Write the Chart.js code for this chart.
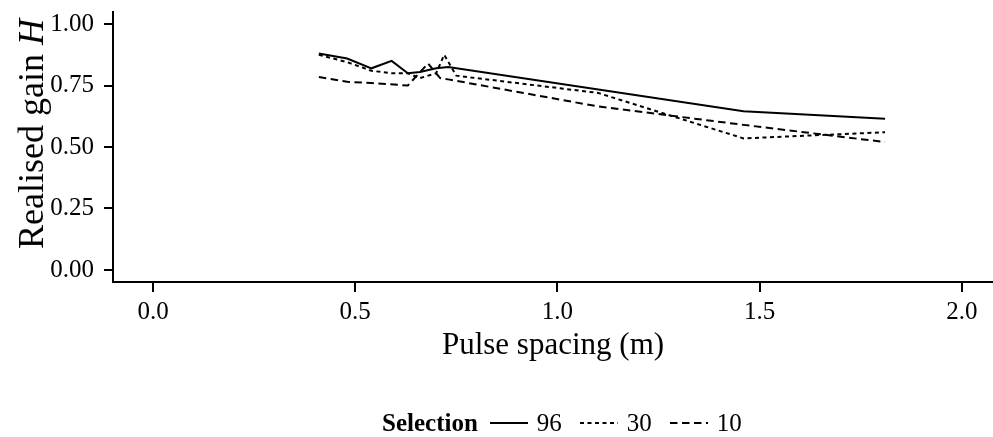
<!DOCTYPE html>
<html>
<head>
<meta charset="utf-8">
<script src="https://cdn.jsdelivr.net/npm/chart.js@4"></script>
<style>
  body { margin: 0; background: #fff; }
  #wrap { position: relative; width: 993px; height: 437px; font-family: 'Liberation Serif', serif; color: #000; }
  #ytitle { position: absolute; left: 31px; top: 134px; transform: translate(-50%, -50%) rotate(-90deg); white-space: nowrap; font-size: 36px; }
  #legend { position: absolute; left: 382px; top: 408px; height: 30px; white-space: nowrap; font-size: 25px; display: flex; align-items: center; }
  #legend b { margin-right: 12px; }
  #legend svg { margin-right: 9px; }
  #legend span { margin-right: 18px; }
</style>
</head>
<body>
<div id="wrap">
  <canvas id="chart" width="993" height="437"></canvas>
  <div id="ytitle">Realised gain <i>H</i></div>
  <div id="legend"></div>
</div>
<script>
// Pulse spacing (m) and realised gain for each selection level
const spacing96 = [0.41, 0.48, 0.54, 0.59, 0.63, 0.66, 0.70, 0.73, 1.46, 1.81];
const gain96 = [0.88, 0.86, 0.82, 0.85, 0.80, 0.805, 0.82, 0.825, 0.645, 0.615];

const spacing30 = [0.41, 0.48, 0.54, 0.59, 0.63, 0.66, 0.70, 0.72, 0.75, 1.10, 1.46, 1.81];
const gain30 = [0.875, 0.845, 0.81, 0.80, 0.80, 0.78, 0.80, 0.875, 0.79, 0.72, 0.535, 0.56];

const spacing10 = [0.41, 0.48, 0.54, 0.63, 0.68, 0.71, 0.73, 1.10, 1.46, 1.81];
const gain10 = [0.785, 0.765, 0.76, 0.75, 0.84, 0.78, 0.775, 0.665, 0.59, 0.52];

const xTicks = [0, 0.5, 1.0, 1.5, 2.0];
const yTicks = [0, 0.25, 0.5, 0.75, 1.0];

const selections = ['96', '30', '10'];
const dashes = [[], [4, 3.5], [7.5, 4.5]];

function toPoints(xs, ys) {
    return xs.map((x, i) => ({ x: x, y: ys[i] }));
}

const seriesData = [toPoints(spacing96, gain96), toPoints(spacing30, gain30), toPoints(spacing10, gain10)];

const datasets = selections.map((label, i) => ({
    label: label,
    data: seriesData[i],
    showLine: true,
    borderColor: '#000',
    borderWidth: 2,
    borderDash: dashes[i],
    pointRadius: 0,
    tension: 0
}));

const font = { family: 'Liberation Serif', size: 25 };

// stop the tick labels from pushing the plot area in
function noLabelPadding(s) {
    s.paddingTop = 0;
    s.paddingBottom = 0;
    s.paddingLeft = 0;
    s.paddingRight = 0;
}

new Chart(document.getElementById('chart'), {
    type: 'scatter',
    data: { datasets: datasets },
    options: {
        responsive: false,
        animation: false,
        layout: { padding: { top: 12, right: 0, bottom: 60, left: 0 } },
        plugins: { legend: { display: false }, tooltip: { enabled: false } },
        scales: {
            x: {
                type: 'linear',
                min: -0.099,
                max: 2.077,
                afterBuildTicks: s => { s.ticks = xTicks.map(v => ({ value: v })); },
                afterFit: s => { s.height = 437 - 282 - 60; noLabelPadding(s); },
                ticks: { font: font, color: '#000', padding: 5, callback: v => v.toFixed(1), maxRotation: 0 },
                grid: { drawOnChartArea: false, tickLength: 10, color: '#000', lineWidth: 2 },
                border: { color: '#000', width: 2 },
                title: { display: true, text: 'Pulse spacing (m)', color: '#000',
                    font: { family: 'Liberation Serif', size: 31 }, padding: { top: 0, bottom: 13 } }
            },
            y: {
                min: -0.049,
                max: 1.049,
                afterBuildTicks: s => { s.ticks = yTicks.map(v => ({ value: v })); },
                afterFit: s => { s.width = 113; noLabelPadding(s); },
                ticks: { font: font, color: '#000', padding: 10, callback: v => v.toFixed(2) },
                grid: { drawOnChartArea: false, tickLength: 9, color: '#000', lineWidth: 2 },
                border: { color: '#000', width: 2 }
            }
        }
    }
});

// legend drawn as html, line samples from the same dash patterns
const legend = document.getElementById('legend');
legend.innerHTML = '<b>Selection</b>';
selections.forEach((label, i) => {
    const svg = '<svg width="38" height="10"><line x1="0" y1="5" x2="38" y2="5" stroke="#000" stroke-width="2"' +
        (dashes[i].length ? ' stroke-dasharray="' + dashes[i].join(',') + '"' : '') + '/></svg>';
    legend.insertAdjacentHTML('beforeend', svg + '<span>' + label + '</span>');
});
</script>
</body>
</html>
